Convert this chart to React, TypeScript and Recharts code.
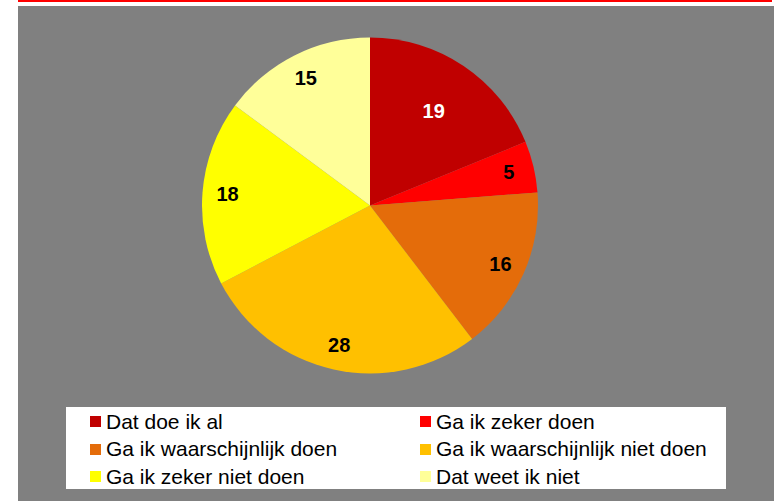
import { PieChart, Pie, Cell, Legend } from 'recharts';

const categories = [
  'Dat doe ik al',
  'Ga ik zeker doen',
  'Ga ik waarschijnlijk doen',
  'Ga ik waarschijnlijk niet doen',
  'Ga ik zeker niet doen',
  'Dat weet ik niet',
];
const values = [19, 5, 16, 28, 18, 15];
const colors = ['#C00000', '#FF0000', '#E46C0A', '#FFC000', '#FFFF00', '#FFFF99'];
const labelColors = ['#FFFFFF', '#000000', '#000000', '#000000', '#000000', '#000000'];

const data = categories.map((name, i) => ({ name, value: values[i] }));

const FONT = '"Liberation Sans", Arial, sans-serif';
const RAD = Math.PI / 180;

const renderLabel = (props: any) => {
  const { cx, cy, midAngle, outerRadius, index, value } = props;
  const r = outerRadius * (index === 0 ? 0.68 : 0.85);
  const x = cx + r * Math.cos(-midAngle * RAD);
  const y = cy + r * Math.sin(-midAngle * RAD);
  return (
    <text
      x={x}
      y={y}
      fill={labelColors[index]}
      textAnchor="middle"
      dominantBaseline="central"
      fontFamily={FONT}
      fontWeight="bold"
      fontSize={20}
    >
      {value}
    </text>
  );
};

// legend keeps the slice order (two columns, row by row)
const renderLegend = () => {
  return (
    <div style={{ position: 'relative', width: 660, height: 82, background: '#FFFFFF' }}>
      {categories.map((name, i) => {
        const col = i % 2;
        const row = Math.floor(i / 2);
        const left = col === 0 ? 24 : 354;
        const cy = 14.5 + row * 27.5;
        return (
          <div
            key={name}
            style={{
              position: 'absolute',
              left,
              top: cy - 12,
              height: 24,
              display: 'flex',
              alignItems: 'center',
              whiteSpace: 'nowrap',
            }}
          >
            <span style={{ width: 11, height: 11, background: colors[i], display: 'inline-block', marginRight: 5 }} />
            <span style={{ fontFamily: FONT, fontSize: 21, color: '#000000', lineHeight: '24px' }}>{name}</span>
          </div>
        );
      })}
    </div>
  );
};

const App = () => {
  return (
    <div style={{ position: 'absolute', left: 0, top: 0, width: 774, height: 501, background: '#FFFFFF' }}>
      <div style={{ position: 'absolute', left: 18, top: 0, width: 754, height: 2, background: '#FF0000' }} />
      <div style={{ position: 'absolute', left: 18, top: 6, width: 756, height: 495, background: '#808080' }} />
      <div style={{ position: 'absolute', left: 0, top: 0 }}>
        <PieChart width={774} height={501} margin={{ top: 0, right: 0, bottom: 0, left: 0 }}>
          <Pie
            data={data}
            dataKey="value"
            nameKey="name"
            cx={370}
            cy={205.5}
            outerRadius={168}
            startAngle={90}
            endAngle={-270}
            stroke="none"
            label={renderLabel}
            labelLine={false}
            isAnimationActive={false}
          >
            {data.map((d, i) => (
              <Cell key={d.name} fill={colors[i]} />
            ))}
          </Pie>
          <Legend
            content={renderLegend}
            wrapperStyle={{ position: 'absolute', left: 66, top: 407, width: 660, height: 82 }}
          />
        </PieChart>
      </div>
    </div>
  );
};

export default App;
